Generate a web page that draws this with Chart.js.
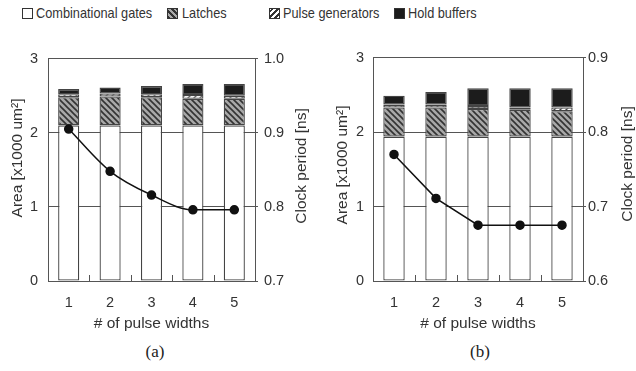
<!DOCTYPE html>
<html>
<head>
<meta charset="utf-8">
<script src="https://cdn.jsdelivr.net/npm/chart.js@4"></script>
<style>
  body { margin: 0; width: 636px; height: 371px; background: #fff; position: relative; overflow: hidden;
         font-family: "Liberation Sans", Arial, sans-serif; color: #333; }
  .sw { position: absolute; top: 8px; width: 9px; height: 9px; border: 1px solid #333; }
  .lt { position: absolute; top: 4px; font-size: 15px; line-height: 18px; transform: scaleX(0.85);
        transform-origin: left center; white-space: nowrap; }
  canvas { position: absolute; top: 40px; }
  .cap { position: absolute; top: 342px; width: 40px; text-align: center; font-family: "Liberation Serif", "Times New Roman", serif;
         font-size: 17px; color: #222; }
</style>
</head>
<body>
<div class="sw" style="left:22px;background:#fff"></div><div class="lt" style="left:36px">Combinational gates</div>
<div class="sw" style="left:167px;background:repeating-linear-gradient(45deg,#333 0 2px,#aaa 2px 4px)"></div><div class="lt" style="left:182px">Latches</div>
<div class="sw" style="left:269px;background:repeating-linear-gradient(-45deg,#fff 0 2px,#333 2px 4px)"></div><div class="lt" style="left:283px">Pulse generators</div>
<div class="sw" style="left:394px;background:#1c1c1c"></div><div class="lt" style="left:408px">Hold buffers</div>

<canvas id="chartA" width="318" height="300" style="left:0px"></canvas>
<canvas id="chartB" width="318" height="300" style="left:318px"></canvas>

<div class="cap" style="left:135px">(a)</div>
<div class="cap" style="left:460px">(b)</div>

<script>
// # of pulse widths
const pulseWidths = ["1", "2", "3", "4", "5"];

// (a) area breakdown [x1000 um2] and clock period [ns]
const combA = [2.10, 2.10, 2.10, 2.10, 2.10];
const latchA = [0.38, 0.39, 0.38, 0.36, 0.36];
const pulseA = [0.04, 0.04, 0.04, 0.05, 0.04];
const holdA = [0.07, 0.08, 0.11, 0.15, 0.16];
const periodA = [0.905, 0.848, 0.816, 0.796, 0.796];

// (b)
const combB = [1.94, 1.94, 1.94, 1.94, 1.94];
const latchB = [0.39, 0.39, 0.37, 0.36, 0.34];
const pulseB = [0.04, 0.04, 0.04, 0.03, 0.05];
const holdB = [0.12, 0.17, 0.24, 0.26, 0.26];
const periodB = [0.770, 0.711, 0.675, 0.675, 0.675];

const areaTicks = [0, 1, 2, 3];
const periodTicksA = [0.7, 0.8, 0.9, 1.0];
const periodTicksB = [0.6, 0.7, 0.8, 0.9];

const AREA_TITLE = "Area [x1000 um\u00b2]";
const PERIOD_TITLE = "Clock period [ns]";

Chart.defaults.font.family = '"Liberation Sans", Arial, sans-serif';
Chart.defaults.color = "#333";

function makePattern(bg, fg, back, lw) {
    const c = document.createElement("canvas");
    c.width = 6; c.height = 6;
    const g = c.getContext("2d");
    g.fillStyle = bg;
    g.fillRect(0, 0, 6, 6);
    g.strokeStyle = fg;
    g.lineWidth = lw;
    g.beginPath();
    if (back) {
        g.moveTo(-1, -1); g.lineTo(7, 7);
        g.moveTo(-1, 5); g.lineTo(1, 7);
        g.moveTo(5, -1); g.lineTo(7, 1);
    } else {
        g.moveTo(-1, 7); g.lineTo(7, -1);
        g.moveTo(-1, 1); g.lineTo(1, -1);
        g.moveTo(5, 7); g.lineTo(7, 5);
    }
    g.stroke();
    return g.createPattern(c, "repeat");
}

const latchFill = makePattern("#a8a8a8", "#333", true, 1.6);
const pulseFill = makePattern("#fff", "#444", false, 1.4);

// small inward tick marks between categories + rotated side titles
const framePlugin = {
    id: "frame",
    afterDraw(chart, args, opts) {
        const ctx = chart.ctx;
        const xs = chart.scales.x;
        const bottom = chart.chartArea.bottom;
        ctx.save();
        ctx.strokeStyle = "#555";
        ctx.lineWidth = 1;
        for (let i = 0; i < pulseWidths.length - 1; i++) {
            const x = Math.round((xs.getPixelForValue(i) + xs.getPixelForValue(i + 1)) / 2) + 0.5;
            ctx.beginPath();
            ctx.moveTo(x, bottom);
            ctx.lineTo(x, bottom - 6);
            ctx.stroke();
        }
        ctx.fillStyle = "#333";
        ctx.font = '15.5px "Liberation Sans", Arial, sans-serif';
        ctx.textAlign = "center";
        ctx.textBaseline = "middle";
        opts.titles.forEach(t => {
            ctx.save();
            ctx.translate(t.x, t.y);
            ctx.rotate(-Math.PI / 2);
            ctx.fillText(t.text, 0, 0);
            ctx.restore();
        });
        ctx.restore();
    }
};

function drawPanel(id, comb, latch, pulse, hold, period, pTicks, box) {
    const bar = { borderColor: "#444", borderWidth: 1.3, borderSkipped: false, barPercentage: 0.51, categoryPercentage: 1, order: 1 };
    new Chart(document.getElementById(id), {
        type: "bar",
        data: {
            labels: pulseWidths,
            datasets: [
                Object.assign({ label: "Combinational gates", data: comb, backgroundColor: "#fff" }, bar),
                Object.assign({ label: "Latches", data: latch, backgroundColor: latchFill }, bar),
                Object.assign({ label: "Pulse generators", data: pulse, backgroundColor: pulseFill }, bar),
                Object.assign({ label: "Hold buffers", data: hold, backgroundColor: "#1c1c1c" }, bar),
                {
                    type: "line", label: "Clock period", data: period, yAxisID: "y1", order: 0,
                    borderColor: "#111", borderWidth: 1.5, backgroundColor: "#111",
                    pointRadius: 4, pointHoverRadius: 4, tension: box.tension,
                    cubicInterpolationMode: box.tension ? "monotone" : "default"
                }
            ]
        },
        options: {
            responsive: false,
            animation: false,
            devicePixelRatio: 1,
            layout: { padding: { top: box.top, left: 0, right: 0, bottom: 0 } },
            plugins: {
                legend: { display: false },
                tooltip: { enabled: false },
                frame: { titles: box.titles }
            },
            scales: {
                x: {
                    stacked: true,
                    grid: { display: false },
                    border: { display: true, color: "#555", width: 1 },
                    ticks: { padding: 5, font: { size: 14.5 }, color: "#333" },
                    title: { display: true, text: "# of pulse widths", font: { size: 15.5 }, color: "#333", padding: { top: 0, bottom: 7 } },
                    afterFit(s) { s.height = 59; }
                },
                y: {
                    stacked: true,
                    min: 0, max: 3,
                    afterBuildTicks(s) { s.ticks = areaTicks.map(v => ({ value: v })); },
                    grid: { color: "#555", lineWidth: 1, drawTicks: false },
                    border: { display: true, color: "#555", width: 1 },
                    ticks: { padding: box.yPad, font: { size: 14.5 }, color: "#333", callback: v => String(v) },
                    afterFit(s) { s.width = box.yW; }
                },
                y1: {
                    position: "right",
                    min: pTicks[0], max: pTicks[pTicks.length - 1],
                    afterBuildTicks(s) { s.ticks = pTicks.map(v => ({ value: v })); },
                    grid: { drawOnChartArea: false, drawTicks: true, tickLength: 3, color: "#555" },
                    border: { display: true, color: "#555", width: 1 },
                    ticks: { padding: box.y1Pad, font: { size: 14.5 }, color: "#333", callback: v => Number(v).toFixed(1) },
                    afterFit(s) { s.width = box.y1W; }
                }
            }
        },
        plugins: [framePlugin]
    });
}

drawPanel("chartA", combA, latchA, pulseA, holdA, periodA, periodTicksA, {
    top: 13, yW: 48, y1W: 63, yPad: 10, y1Pad: 6, tension: 0.3,
    titles: [{ text: AREA_TITLE, x: 18, y: 118 }, { text: PERIOD_TITLE, x: 302, y: 126 }]
});
drawPanel("chartB", combB, latchB, pulseB, holdB, periodB, periodTicksB, {
    top: 14, yW: 55, y1W: 53, yPad: 9, y1Pad: 2, tension: 0,
    titles: [{ text: AREA_TITLE, x: 25, y: 125 }, { text: PERIOD_TITLE, x: 310, y: 124 }]
});
</script>
</body>
</html>
